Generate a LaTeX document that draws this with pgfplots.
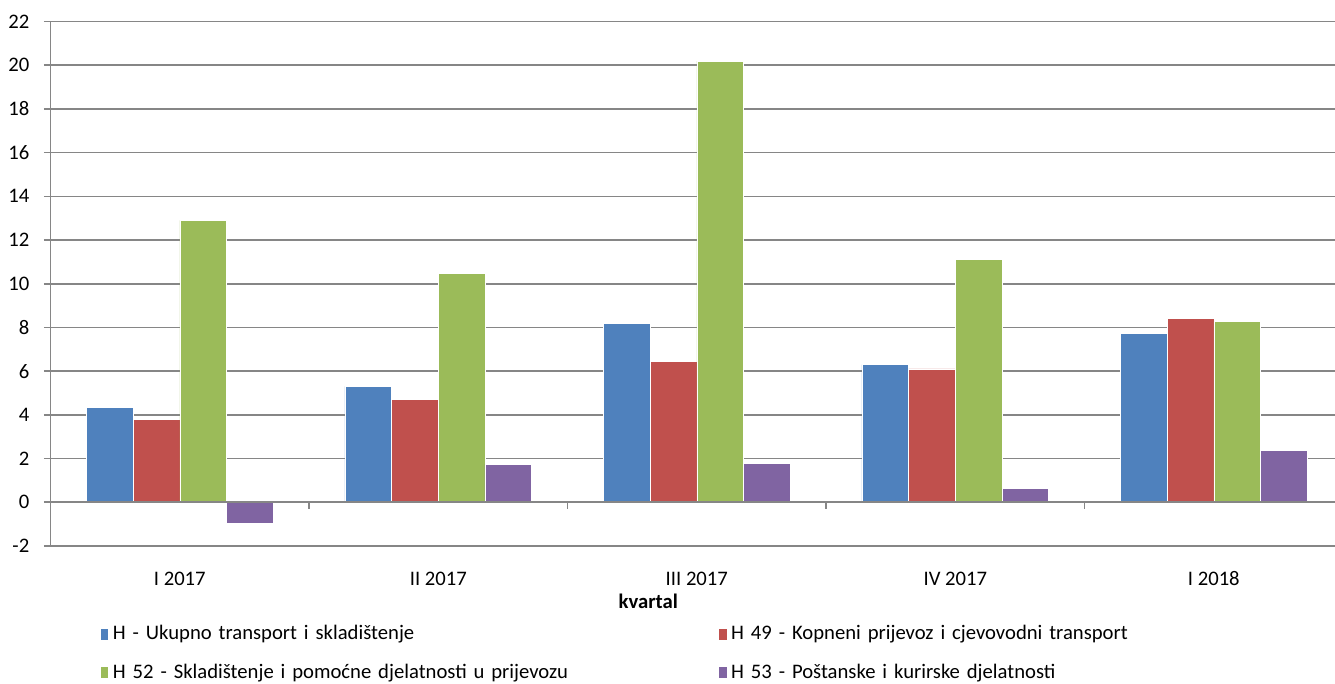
\documentclass[border=0pt]{standalone}
\usepackage{fontspec}
\setmainfont{Carlito}
\usepackage{pgfplots}
\pgfplotsset{compat=1.18}

\definecolor{cBlue}{HTML}{4F81BD}
\definecolor{cRed}{HTML}{C0504D}
\definecolor{cGreen}{HTML}{9BBB59}
\definecolor{cPurple}{HTML}{8064A2}
\definecolor{gridgray}{HTML}{868686}

\pgfplotsset{sqlegend/.style={legend image code/.code={\fill[##1] (0pt,-3.75pt) rectangle (6.3pt,5.25pt);}}}

\begin{document}
\begin{tikzpicture}[font=\fontsize{15.5}{18}\selectfont]
\begin{axis}[
    at={(37.9pt,-409.5pt)}, anchor=south west,
    scale only axis,
    width=969.4pt, height=393.4pt,
    xmin=-0.5, xmax=4.5,
    ymin=-2, ymax=22,
    ytick={-2,0,...,22},
    xtick={0,...,4},
    xticklabels={I 2017, II 2017, III 2017, IV 2017, I 2018},
    axis x line=bottom, axis y line=left,
    axis line style={gridgray, line width=1.2pt, -},
    ymajorgrids=true,
    major grid style={gridgray, line width=1.2pt},
    tick align=outside,
    major tick length=5pt,
    ytick style={gridgray, line width=1.2pt},
    xtick style={draw=none},
    /pgf/number format/assume math mode=true,
    yticklabel style={inner sep=0pt, anchor=east, xshift=-10.75pt},
    xticklabel style={inner sep=0pt, anchor=base, yshift=-24.75pt},
    xlabel={\bfseries kvartal},
    xlabel style={at={(axis description cs:0.4625,-0.1182)}, anchor=base, inner sep=0pt},
    ybar=0pt, bar width=0.1805,
    legend columns=2,
    legend cell align=left,
    legend style={draw=none, fill=none, inner sep=0pt, outer sep=0pt,
        at={(axis description cs:0.0383,-0.1512)}, anchor=north west,
        row sep=14.5pt,
        nodes={inner sep=0pt, text height=11pt, text depth=3.5pt, text width=454pt},
        /tikz/every odd column/.style={column sep=3pt}},
]
\addplot[sqlegend, fill=cBlue, draw=white, line width=0.4pt] coordinates {(0,4.34) (1,5.30) (2,8.18) (3,6.30) (4,7.74)};
\addlegendentry{H - Ukupno transport i skladištenje}
\addplot[sqlegend, fill=cRed, draw=white, line width=0.4pt] coordinates {(0,3.80) (1,4.70) (2,6.43) (3,6.10) (4,8.43)};
\addlegendentry{H 49 - Kopneni prijevoz i cjevovodni transport}
\addplot[sqlegend, fill=cGreen, draw=white, line width=0.4pt] coordinates {(0,12.90) (1,10.46) (2,20.18) (3,11.13) (4,8.28)};
\addlegendentry{H 52 - Skladištenje i pomoćne djelatnosti u prijevozu}
\addplot[sqlegend, fill=cPurple, draw=white, line width=0.4pt] coordinates {(0,-0.98) (1,1.75) (2,1.79) (3,0.62) (4,2.36)};
\addlegendentry{H 53 - Poštanske i kurirske djelatnosti}
\draw[gridgray, line width=1.2pt] (axis cs:-0.5,0) -- (axis cs:4.5,0);
\pgfplotsinvokeforeach{0.5,1.5,2.5,3.5,4.5}{
  \draw[gridgray, line width=1.2pt] (axis cs:#1,0) -- ([yshift=-5pt]axis cs:#1,0);
}
\end{axis}
\pgfresetboundingbox
\path[use as bounding box] (0,0) rectangle (1001.25pt,-513pt);
\end{tikzpicture}
\end{document}
